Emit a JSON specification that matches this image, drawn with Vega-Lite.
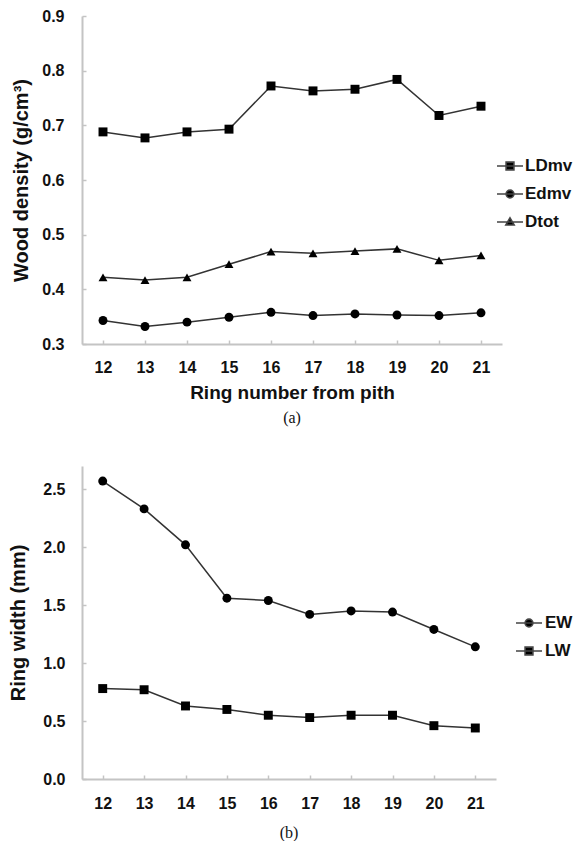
{
  "$schema": "https://vega.github.io/schema/vega-lite/v6.json",
  "background": "white",
  "padding": {"left": 8, "top": 8, "right": 0, "bottom": 0},
  "config": {
    "font": "Liberation Sans",
    "view": {"stroke": null},
    "axis": {
      "domainColor": "#c4c4c4", "domainWidth": 2,
      "tickColor": "#c4c4c4", "tickWidth": 1.5, "tickSize": -4,
      "grid": false,
      "labelFont": "Liberation Sans", "labelFontSize": 16, "labelFontWeight": "bold", "labelColor": "#111",
      "titleFont": "Liberation Sans", "titleFontSize": 20, "titleFontWeight": "bold", "titleColor": "#111"
    },
    "legend": {
      "title": null, "orient": "none", "symbolSize": 676, "symbolOpacity": 1,
      "symbolFillColor": "#000", "symbolStrokeColor": "#444", "symbolStrokeWidth": 1.6,
      "labelFont": "Liberation Sans", "labelFontSize": 17, "labelFontWeight": "bold", "labelColor": "#111",
      "rowPadding": 6, "padding": 0
    }
  },
  "datasets": {
    "density": [
      {"ring": 12, "series": "LDmv", "value": 0.688}, {"ring": 13, "series": "LDmv", "value": 0.677},
      {"ring": 14, "series": "LDmv", "value": 0.688}, {"ring": 15, "series": "LDmv", "value": 0.693},
      {"ring": 16, "series": "LDmv", "value": 0.772}, {"ring": 17, "series": "LDmv", "value": 0.763},
      {"ring": 18, "series": "LDmv", "value": 0.766}, {"ring": 19, "series": "LDmv", "value": 0.784},
      {"ring": 20, "series": "LDmv", "value": 0.718}, {"ring": 21, "series": "LDmv", "value": 0.735},
      {"ring": 12, "series": "Edmv", "value": 0.343}, {"ring": 13, "series": "Edmv", "value": 0.332},
      {"ring": 14, "series": "Edmv", "value": 0.340}, {"ring": 15, "series": "Edmv", "value": 0.349},
      {"ring": 16, "series": "Edmv", "value": 0.358}, {"ring": 17, "series": "Edmv", "value": 0.352},
      {"ring": 18, "series": "Edmv", "value": 0.355}, {"ring": 19, "series": "Edmv", "value": 0.353},
      {"ring": 20, "series": "Edmv", "value": 0.352}, {"ring": 21, "series": "Edmv", "value": 0.357},
      {"ring": 12, "series": "Dtot", "value": 0.422}, {"ring": 13, "series": "Dtot", "value": 0.417},
      {"ring": 14, "series": "Dtot", "value": 0.422}, {"ring": 15, "series": "Dtot", "value": 0.446},
      {"ring": 16, "series": "Dtot", "value": 0.469}, {"ring": 17, "series": "Dtot", "value": 0.466},
      {"ring": 18, "series": "Dtot", "value": 0.470}, {"ring": 19, "series": "Dtot", "value": 0.474},
      {"ring": 20, "series": "Dtot", "value": 0.453}, {"ring": 21, "series": "Dtot", "value": 0.462}
    ],
    "width": [
      {"ring": 12, "series": "EW", "value": 2.57}, {"ring": 13, "series": "EW", "value": 2.33},
      {"ring": 14, "series": "EW", "value": 2.02}, {"ring": 15, "series": "EW", "value": 1.56},
      {"ring": 16, "series": "EW", "value": 1.54}, {"ring": 17, "series": "EW", "value": 1.42},
      {"ring": 18, "series": "EW", "value": 1.45}, {"ring": 19, "series": "EW", "value": 1.44},
      {"ring": 20, "series": "EW", "value": 1.29}, {"ring": 21, "series": "EW", "value": 1.14},
      {"ring": 12, "series": "LW", "value": 0.78}, {"ring": 13, "series": "LW", "value": 0.77},
      {"ring": 14, "series": "LW", "value": 0.63}, {"ring": 15, "series": "LW", "value": 0.60},
      {"ring": 16, "series": "LW", "value": 0.55}, {"ring": 17, "series": "LW", "value": 0.53},
      {"ring": 18, "series": "LW", "value": 0.55}, {"ring": 19, "series": "LW", "value": 0.55},
      {"ring": 20, "series": "LW", "value": 0.46}, {"ring": 21, "series": "LW", "value": 0.44}
    ]
  },
  "columns": 1,
  "align": "none",
  "spacing": 40,
  "resolve": {"scale": {"shape": "independent", "x": "independent", "y": "independent"}, "legend": {"shape": "independent"}},
  "concat": [
    {
      "width": 420, "height": 328,
      "data": {"name": "density"},
      "title": {"text": "(a)", "orient": "bottom", "anchor": "middle", "frame": "group", "font": "Liberation Serif", "fontSize": 16, "fontWeight": "normal", "color": "#111", "offset": 8},
      "encoding": {
        "x": {"field": "ring", "type": "ordinal", "scale": {"type": "point", "padding": 0.5},
              "axis": {"title": "Ring number from pith", "titleFontSize": 19, "labelAngle": 0, "labelPadding": 19, "titlePadding": 8}},
        "y": {"field": "value", "type": "quantitative", "scale": {"domain": [0.3, 0.9], "nice": false, "zero": false},
              "axis": {"title": "Wood density (g/cm³)", "values": [0.3, 0.4, 0.5, 0.6, 0.7, 0.8, 0.9], "format": ".1f", "labelPadding": 22, "titlePadding": 10}}
      },
      "resolve": {"scale": {"shape": "independent"}, "legend": {"shape": "independent"}},
      "layer": [
        {"mark": {"type": "line", "color": "#333", "strokeWidth": 1.5}, "encoding": {"detail": {"field": "series"}}},
        {"mark": {"type": "point", "filled": true, "opacity": 1, "color": "#000", "size": 80},
         "encoding": {"shape": {"field": "series", "type": "nominal",
            "scale": {"domain": ["LDmv", "Edmv", "Dtot"], "range": ["square", "circle", "triangle-up"]},
            "legend": null}}},
        {"mark": {"type": "point", "filled": true, "opacity": 0, "color": "#000", "size": 80},
         "encoding": {"shape": {"field": "series", "type": "nominal",
            "scale": {"domain": ["LDmv", "Edmv", "Dtot"], "range": [
              "M-1,0H1M-0.3,-0.3H0.3V0.3H-0.3Z",
              "M-1,0H1M0.3,0A0.3,0.3,0,1,1,-0.3,0A0.3,0.3,0,1,1,0.3,0Z",
              "M-1,0H1M0,-0.32L0.32,0.23L-0.32,0.23Z"]},
            "legend": {"legendX": 414, "legendY": 136, "labelOffset": 1,
              "encoding": {"symbols": {"fill": {"value": "#000"}, "stroke": {"value": "#444"}, "strokeWidth": {"value": 1.6}, "opacity": {"value": 1}}}}}}}
      ]
    },
    {
      "width": 414, "height": 313,
      "data": {"name": "width"},
      "title": {"text": "(b)", "orient": "bottom", "anchor": "middle", "frame": "group", "font": "Liberation Serif", "fontSize": 16, "fontWeight": "normal", "color": "#111", "offset": 14},
      "encoding": {
        "x": {"field": "ring", "type": "ordinal", "scale": {"type": "point", "padding": 0.5},
              "axis": {"title": null, "labelAngle": 0, "labelPadding": 20}},
        "y": {"field": "value", "type": "quantitative", "scale": {"domain": [0, 2.7], "nice": false},
              "axis": {"title": "Ring width (mm)", "values": [0, 0.5, 1, 1.5, 2, 2.5], "format": ".1f", "labelPadding": 21, "titlePadding": 14}}
      },
      "resolve": {"scale": {"shape": "independent"}, "legend": {"shape": "independent"}},
      "layer": [
        {"mark": {"type": "line", "color": "#333", "strokeWidth": 1.5}, "encoding": {"detail": {"field": "series"}}},
        {"mark": {"type": "point", "filled": true, "opacity": 1, "color": "#000", "size": 80},
         "encoding": {"shape": {"field": "series", "type": "nominal",
            "scale": {"domain": ["EW", "LW"], "range": ["circle", "square"]},
            "legend": null}}},
        {"mark": {"type": "point", "filled": true, "opacity": 0, "color": "#000", "size": 80},
         "encoding": {"shape": {"field": "series", "type": "nominal",
            "scale": {"domain": ["EW", "LW"], "range": [
              "M-1,0H1M0.3,0A0.3,0.3,0,1,1,-0.3,0A0.3,0.3,0,1,1,0.3,0Z",
              "M-1,0H1M-0.3,-0.3H0.3V0.3H-0.3Z"]},
            "legend": {"legendX": 433, "legendY": 143, "labelOffset": 2,
              "encoding": {"symbols": {"fill": {"value": "#000"}, "stroke": {"value": "#444"}, "strokeWidth": {"value": 1.6}, "opacity": {"value": 1}}}}}}}
      ]
    }
  ]
}
